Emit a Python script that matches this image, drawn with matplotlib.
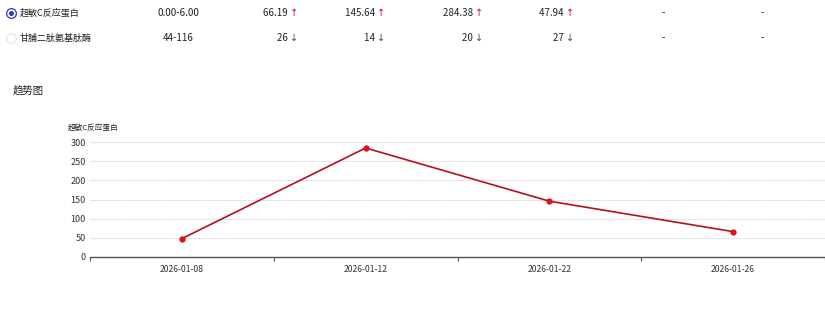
import matplotlib.pyplot as plt
import numpy as np

plt.rcParams["font.family"] = ["Noto Sans CJK SC", "DejaVu Sans"]

# 表格数据
row_names = ["超敏C反应蛋白", "甘脯二肽氨基肽酶"]
row_ranges = ["0.00-6.00", "44-116"]
row_values = [["66.19", "145.64", "284.38", "47.94", "-", "-"],
              ["26", "14", "20", "27", "-", "-"]]
row_flags = [["up", "up", "up", "up", "", ""],
             ["down", "down", "down", "down", "", ""]]

# 趋势图数据
dates = ["2026-01-08", "2026-01-12", "2026-01-22", "2026-01-26"]
crp = [47.94, 284.38, 145.64, 66.19]
y_ticks = [0, 50, 100, 150, 200, 250, 300]

W, H = 825, 309
fig = plt.figure(figsize=(W / 100, H / 100), dpi=100, facecolor="white")

# 像素坐标的覆盖层 (表格、标题)
ov = fig.add_axes([0, 0, 1, 1])
ov.set_xlim(0, W)
ov.set_ylim(H, 0)
ov.axis("off")

# --------------------------------------------------------------------------- #
# 表格行
# --------------------------------------------------------------------------- #
col_x = [290, 377, 475, 566, 663, 762]
row_y = [13, 38]
txt = "#222222"
for r, name in enumerate(row_names):
    y = row_y[r]
    # 单选按钮
    if r == 0:
        ov.plot(11, y, "o", ms=7, mfc="white", mec="#2a3dbf", mew=0.9)
        ov.plot(11, y, "o", ms=3.6, mfc="#2a3dbf", mec="none")
    else:
        ov.plot(11, y, "o", ms=7, mfc="white", mec="#e6e6e6", mew=0.8)
    ov.text(20, y, name, fontsize=6.5, va="center", ha="left", color=txt)
    ov.text(178, y, row_ranges[r], fontsize=7, va="center", ha="center", color=txt)
    for c, val in enumerate(row_values[r]):
        flag = row_flags[r][c]
        if flag == "up":
            ov.text(col_x[c], y, val + " ", fontsize=7, va="center", ha="right", color=txt)
            ov.text(col_x[c], y, "↑", fontsize=7, va="center", ha="left",
                    color="#d0101a", family=["DejaVu Sans"])
        elif flag == "down":
            ov.text(col_x[c], y, val + " ", fontsize=7, va="center", ha="right", color=txt)
            ov.text(col_x[c], y, "↓", fontsize=7, va="center", ha="left",
                    color="#2e5e2e", family=["DejaVu Sans"])
        else:
            ov.text(col_x[c], y, val, fontsize=7, va="center", ha="center", color=txt)

# 标题
ov.text(13, 91, "趋势图", fontsize=7.5, va="center", ha="left", color=txt)
ov.text(68, 129, "超敏C反应蛋白", fontsize=5.5, va="center", ha="left", color=txt)

# --------------------------------------------------------------------------- #
# 折线图
# --------------------------------------------------------------------------- #
ax = fig.add_axes([90 / W, 1 - 257 / H, 735 / W, 115 / H])
ax.set_facecolor("none")
x = np.arange(len(dates))
ax.plot(x, crp, color="#b5101c", lw=1.2, marker="o", markersize=3.5,
        markerfacecolor="#e0101a", markeredgecolor="#e0101a", clip_on=False, zorder=3)

ax.set_xlim(-0.5, len(dates) - 0.5)
ax.set_ylim(0, 300)
ax.set_yticks(y_ticks)
ax.set_yticklabels([str(v) for v in y_ticks], fontsize=6.5, color="#333333")
ax.set_xticks(x)
ax.set_xticklabels(dates, fontsize=6.2, color="#333333")
ax.set_xticks(np.arange(-0.5, len(dates)), minor=True)
ax.tick_params(axis="x", which="major", length=0, pad=6)
ax.tick_params(axis="x", which="minor", length=3, width=0.8, color="#555555", direction="out")
ax.tick_params(axis="y", length=0, pad=3)

ax.grid(axis="y", color="#d0d0d0", lw=0.6, ls=(0, (2, 1)))
for s in ["top", "right", "left"]:
    ax.spines[s].set_visible(False)
ax.spines["bottom"].set_color("#555555")
ax.spines["bottom"].set_linewidth(1.0)

fig.savefig("out.png", dpi=100, facecolor="white")
